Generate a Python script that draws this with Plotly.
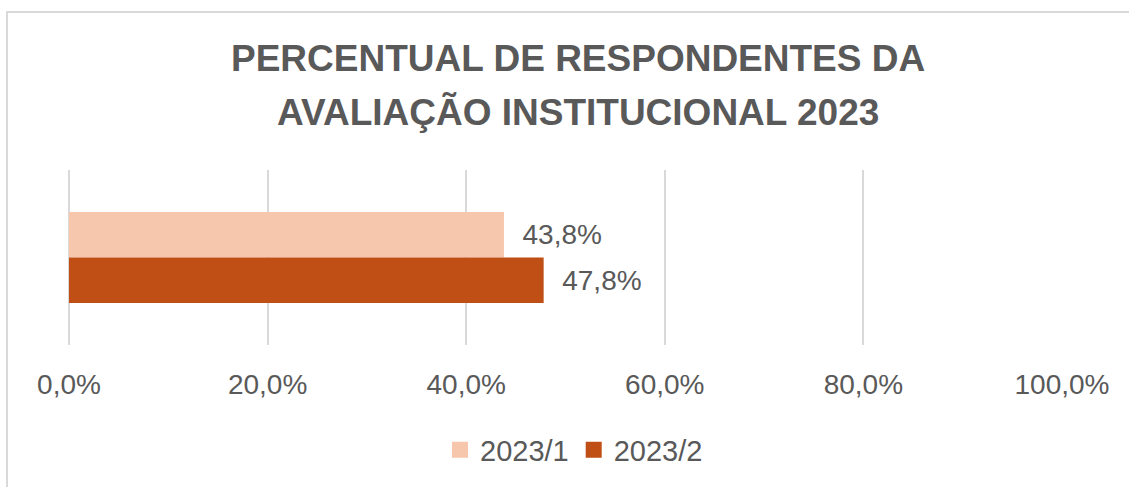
import plotly.graph_objects as go

categories = ["Respondentes"]
series_names = ["2023/1", "2023/2"]
values_2023_1 = [43.8]
values_2023_2 = [47.8]
tick_values = [0, 20, 40, 60, 80, 100]
tick_labels = ["0,0%", "20,0%", "40,0%", "60,0%", "80,0%", "100,0%"]
title_lines = ["PERCENTUAL DE RESPONDENTES DA", "AVALIAÇÃO INSTITUCIONAL 2023"]

colors = ["#F6C6AD", "#C04F15"]
gray = "#595959"
font_family = "Liberation Sans, Arial, sans-serif"

W, H = 1129, 487
L, R, T, B = 69, 67, 170, 142
pw = W - L - R
ph = H - T - B

def px_to_paper_x(px):
    return (px - L) / pw

def px_to_paper_y(py):
    return (H - B - py) / ph

def fmt(v):
    return "\u00a0\u00a0" + f"{v:.1f}%".replace(".", ",")

fig = go.Figure()
for name, vals, col in zip(series_names, [values_2023_1, values_2023_2], colors):
    fig.add_trace(go.Bar(
        y=categories, x=vals, name=name, orientation="h",
        marker=dict(color=col, line=dict(width=0)),
        text=[fmt(v) for v in vals], textposition="outside",
        textfont=dict(size=28, color=gray, family=font_family),
        cliponaxis=False, showlegend=False,
    ))
for name, col in zip(series_names, colors):
    fig.add_trace(go.Scatter(
        x=[None], y=[None], name=name, mode="markers",
        marker=dict(symbol="square", size=17, color=col),
        showlegend=True,
    ))

fig.update_layout(
    width=W, height=H,
    margin=dict(l=L, r=R, t=T, b=B),
    paper_bgcolor="white", plot_bgcolor="white",
    barmode="group", bargap=0.48, bargroupgap=0,
    showlegend=True,
    legend=dict(orientation="h", x=px_to_paper_x(574), xanchor="center",
                y=px_to_paper_y(450), yanchor="middle",
                font=dict(size=29, color=gray, family=font_family),
                traceorder="normal", itemwidth=30),
    xaxis=dict(range=[0, 100], tickvals=tick_values, ticktext=tick_labels,
               showgrid=True, gridcolor="#D9D9D9", gridwidth=2,
               zeroline=True, zerolinecolor="#D9D9D9", zerolinewidth=2,
               showline=False, ticks="",
               tickfont=dict(size=28, color=gray, family=font_family),
               ticklabelstandoff=20),
    yaxis=dict(autorange="reversed", showticklabels=False, showgrid=False,
               zeroline=False, showline=False, ticks=""),
    font=dict(family=font_family, color=gray),
)

for line, ypx in zip(title_lines, [58.5, 111.5]):
    fig.add_annotation(text="<b>" + line + "</b>", x=px_to_paper_x(578), y=px_to_paper_y(ypx),
                       xref="paper", yref="paper", xanchor="center", yanchor="middle",
                       showarrow=False, font=dict(size=37, color=gray, family=font_family))

fig.add_shape(type="rect", xref="paper", yref="paper",
              x0=px_to_paper_x(7), x1=px_to_paper_x(1200),
              y0=px_to_paper_y(600), y1=px_to_paper_y(12),
              line=dict(color="#D9D9D9", width=2), fillcolor="rgba(0,0,0,0)", layer="below")

fig.write_html("out.html", config={"displayModeBar": False},
               post_script="document.body.style.margin='0';document.body.style.overflow='hidden';")
